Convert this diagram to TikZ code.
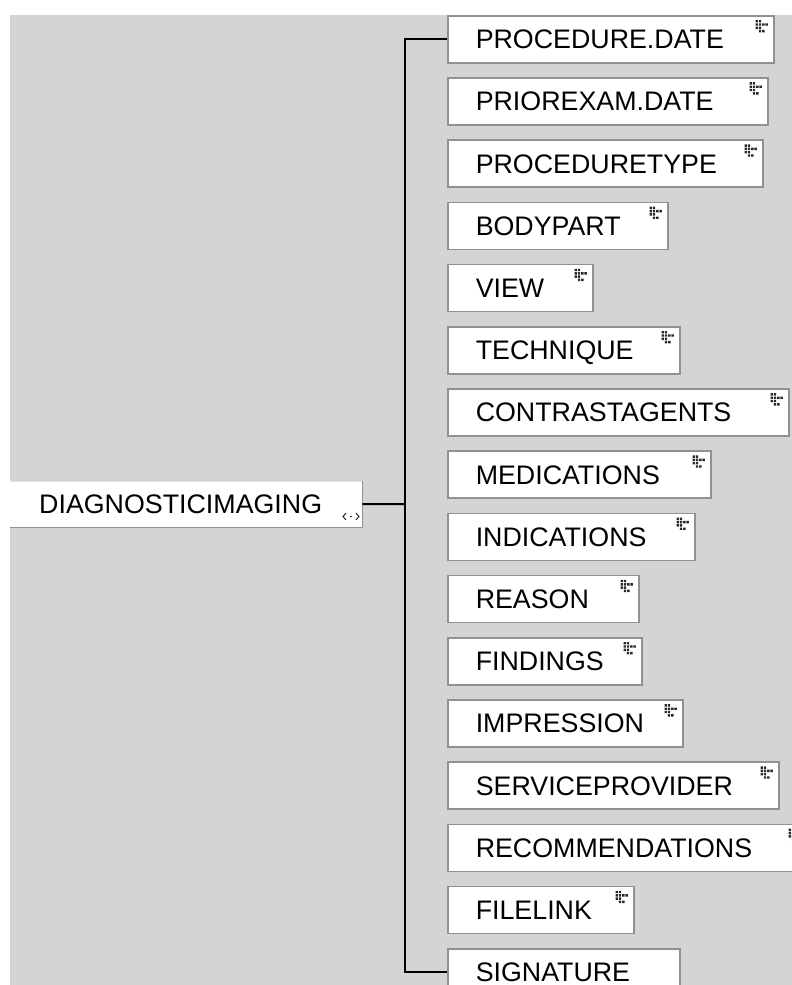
\documentclass[tikz,border=0pt]{standalone}
\usepackage{fontspec}
\setmainfont{Liberation Sans}
\begin{document}
\definecolor{canvas}{RGB}{212,212,212}
\definecolor{edge}{RGB}{145,145,145}
\definecolor{glyph}{RGB}{40,40,40}
\tikzset{
  field/.style={draw=edge, line width=1.5pt, fill=white, rectangle,
    anchor=north west, minimum height=47pt, inner xsep=28pt, inner ysep=0pt,
    text height=19pt, text depth=0pt, align=left,
    font=\fontsize{26.8}{30}\selectfont},
  conn/.style={draw=black, line width=2pt},
  gridicon/.pic={
    \fill[glyph] (0,0) rectangle ++(2.4,2.4) (3.3,0) rectangle ++(2.4,2.4);
    \fill[glyph] (0,3.3) rectangle ++(2.4,2.4) (3.3,3.3) rectangle ++(2.4,2.4)
                 (6.6,3.3) rectangle ++(2.4,2.4) (9.9,3.3) rectangle ++(2.4,2.4);
    \fill[glyph] (0,6.6) rectangle ++(2.4,2.4) (3.3,6.6) rectangle ++(2.4,2.4);
    \fill[glyph] (3.3,9.9) rectangle ++(2.4,2.4) (6.6,9.9) rectangle ++(2.4,2.4);
  }
}
\begin{tikzpicture}[x=1pt, y=-1pt]
\useasboundingbox (0,0) rectangle (792,985);
\begin{scope}
\clip (0,0) rectangle (792,985);
% white page with the grey work area
\fill[white] (0,0) rectangle (792,985);
\fill[canvas] (10,15) rectangle (792,985);

% root element
\node[anchor=north west, fill=white, minimum height=46pt, inner xsep=29pt,
      inner ysep=0pt, text width=294pt, text height=19pt, text depth=0pt,
      align=left, font=\fontsize{26.8}{30}\selectfont]
      (root) at (10,481) {DIAGNOSTICIMAGING};
\draw[white!88!black, line width=1pt] (root.north west) -- (root.north east);
\draw[edge, line width=1.5pt] (root.south west) -- (root.south east) -- (root.north east);
% sequence glyph
\draw[glyph, line width=1pt] (346,513) -- (343,516.5) -- (346,520)
      (356,513) -- (359,516.5) -- (356,520);
\fill[glyph] (350.2,515.7) rectangle (351.8,517.3);

% child elements
\foreach \i/\w/\t in {
   1/326/PROCEDURE.DATE, 2/320/PRIOREXAM.DATE, 3/315/PROCEDURETYPE,
   4/220/BODYPART, 5/145/VIEW, 6/232/TECHNIQUE, 7/341/CONTRASTAGENTS,
   8/263/MEDICATIONS, 9/247/INDICATIONS, 10/191/REASON, 11/194/FINDINGS,
   12/235/IMPRESSION, 13/331/SERVICEPROVIDER, 14/359/RECOMMENDATIONS,
   15/186/FILELINK, 16/232/SIGNATURE}{
  \pgfmathsetmacro{\tw}{\w-56}
  \node[field, text width=\tw pt] (b\i) at (447,{15+62.2*(\i-1)}) {\t};
}
% element-type glyph in the upper right corner of each field
\foreach \i in {1,...,15}{
  \pic at ([xshift=-19pt, yshift=-5pt]b\i.north east) {gridicon};
}

% connectors
\coordinate (spine) at (405,504);
\draw[conn] (root.east) -- (spine);
\draw[conn] (b1.west) -| (spine) |- (b16.west);
\end{scope}
\end{tikzpicture}
\end{document}
